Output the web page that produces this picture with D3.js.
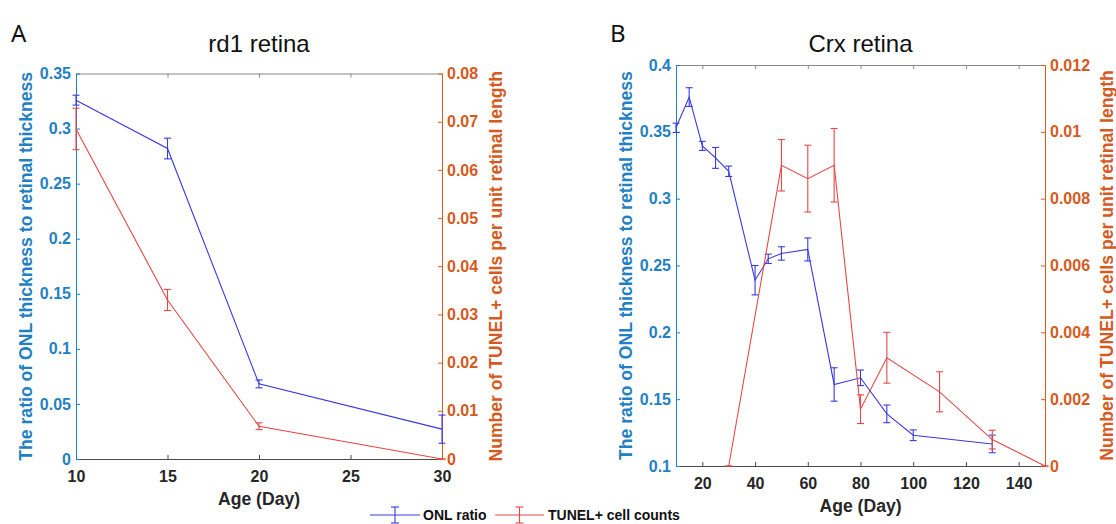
<!DOCTYPE html>
<html>
<head>
<meta charset="utf-8">
<script src="https://cdn.jsdelivr.net/npm/d3@7"></script>
<style>
  html, body { margin: 0; padding: 0; background: #ffffff; }
  svg { display: block; }
  text { font-family: "Liberation Sans", Arial, sans-serif; }
</style>
</head>
<body>
<svg id="fig" width="1116" height="524"></svg>
<script>
// ---- rd1 retina ----
const rd1OnlAge = [10, 15, 20, 30];
const rd1Onl = [0.3258, 0.2819, 0.0682, 0.0271];
const rd1OnlErr = [0.0045, 0.0094, 0.0036, 0.0128];
const rd1TunelAge = [10, 15, 20, 30];
const rd1Tunel = [0.0685, 0.0330, 0.0068, 0];
const rd1TunelErr = [0.0043, 0.0022, 0.0007, 0];
const rd1XTicks = [10, 15, 20, 25, 30];
const rd1LeftTicks = [0, 0.05, 0.1, 0.15, 0.2, 0.25, 0.3, 0.35];
const rd1RightTicks = [0, 0.01, 0.02, 0.03, 0.04, 0.05, 0.06, 0.07, 0.08];

// ---- Crx retina ----
const crxOnlAge = [10, 15, 20, 25, 30, 40, 45, 50, 60, 70, 80, 90, 100, 130];
const crxOnl = [0.353, 0.376, 0.3395, 0.3305, 0.3205, 0.239, 0.255, 0.259, 0.262, 0.161, 0.166, 0.139, 0.123, 0.1165];
const crxOnlErr = [0.0035, 0.007, 0.0034, 0.0078, 0.0039, 0.011, 0.0035, 0.005, 0.0086, 0.0125, 0.0058, 0.0066, 0.004, 0.0066];
const crxTunelAge = [30, 50, 60, 70, 80, 90, 110, 130, 150];
const crxTunel = [0, 0.0090, 0.0086, 0.0090, 0.0017, 0.00324, 0.00222, 0.00079, 0];
const crxTunelErr = [0, 0.00077, 0.001, 0.0011, 0.00043, 0.00076, 0.0006, 0.00028, 0];
const crxXTicks = [20, 40, 60, 80, 100, 120, 140];
const crxLeftTicks = [0.1, 0.15, 0.2, 0.25, 0.3, 0.35, 0.4];
const crxRightTicks = [0, 0.002, 0.004, 0.006, 0.008, 0.01, 0.012];

const seriesNames = ["ONL ratio", "TUNEL+ cell counts"];

// ---- styling ----
const LEFT_COLOR = "#1f80c4";
const RIGHT_COLOR = "#d65a20";
const ONL_COLOR = "#3a3ae2";
const TUNEL_COLOR = "#e64848";
const TICK_TEXT = "#262626";
const TICK_FONT = 16;
const LABEL_FONT = 17.6;

const svg = d3.select("#fig");

function styleAxis(sel, color) {
  sel.attr("font-family", null).attr("font-size", null);
  sel.select(".domain").attr("stroke", color).attr("stroke-width", 1);
  sel.selectAll(".tick line").attr("stroke", color).attr("stroke-width", 1);
  sel.selectAll(".tick text")
    .attr("fill", color)
    .attr("font-size", TICK_FONT)
    .attr("font-weight", "bold");
}

function drawErrorSeries(g, x, y, ages, vals, errs, color, cap) {
  const pts = ages.map((a, i) => ({ a, v: vals[i], e: errs[i] }));
  g.append("path")
    .datum(pts)
    .attr("fill", "none")
    .attr("stroke", color)
    .attr("stroke-width", 1.1)
    .attr("d", d3.line().x(d => x(d.a)).y(d => y(d.v)));
  const eb = g.append("g").attr("stroke", color).attr("stroke-width", 1.1);
  pts.forEach(d => {
    const cx = x(d.a), y0 = y(d.v - d.e), y1 = y(d.v + d.e);
    eb.append("line").attr("x1", cx).attr("x2", cx).attr("y1", y0).attr("y2", y1);
    eb.append("line").attr("x1", cx - cap).attr("x2", cx + cap).attr("y1", y0).attr("y2", y0);
    eb.append("line").attr("x1", cx - cap).attr("x2", cx + cap).attr("y1", y1).attr("y2", y1);
  });
}

function drawPanel(o) {
  const g = svg.append("g");
  const x = d3.scaleLinear().domain(o.xDomain).range([o.left, o.right]);
  const yL = d3.scaleLinear().domain(o.leftDomain).range([o.bottom, o.top]);
  const yR = d3.scaleLinear().domain(o.rightDomain).range([o.bottom, o.top]);

  // box top
  g.append("g")
    .attr("transform", `translate(0,${o.top})`)
    .call(d3.axisTop(x).tickValues(o.xTicks).tickSize(-4).tickSizeOuter(0).tickFormat(""))
    .call(s => styleAxis(s, "#8a8a8a"));

  // bottom axis
  g.append("g")
    .attr("transform", `translate(0,${o.bottom})`)
    .call(d3.axisBottom(x).tickValues(o.xTicks).tickSize(-4).tickSizeOuter(0).tickPadding(12).tickFormat(d => String(d)))
    .call(s => styleAxis(s, "#4a4a4a"))
    .call(s => s.selectAll(".tick text").attr("fill", TICK_TEXT));

  // left axis
  g.append("g")
    .attr("transform", `translate(${o.left},0)`)
    .call(d3.axisLeft(yL).tickValues(o.leftTicks).tickSize(-4).tickSizeOuter(0).tickPadding(5).tickFormat(d => String(d)))
    .call(s => styleAxis(s, LEFT_COLOR));

  // right axis
  g.append("g")
    .attr("transform", `translate(${o.right},0)`)
    .call(d3.axisRight(yR).tickValues(o.rightTicks).tickSize(-4).tickSizeOuter(0).tickPadding(5).tickFormat(d => String(d)))
    .call(s => styleAxis(s, RIGHT_COLOR));

  // data
  drawErrorSeries(g, x, yL, o.onlAge, o.onl, o.onlErr, ONL_COLOR, 3.5);
  drawErrorSeries(g, x, yR, o.tunelAge, o.tunel, o.tunelErr, TUNEL_COLOR, 3.5);

  const midY = (o.top + o.bottom) / 2;
  const midX = (o.left + o.right) / 2;

  // axis labels
  g.append("text")
    .attr("transform", `translate(${o.leftLabelX},${midY}) rotate(-90)`)
    .attr("text-anchor", "middle").attr("dominant-baseline", "central")
    .attr("font-size", LABEL_FONT).attr("font-weight", "bold").attr("fill", LEFT_COLOR)
    .text("The ratio of ONL thickness to retinal thickness");
  g.append("text")
    .attr("transform", `translate(${o.rightLabelX},${midY}) rotate(-90)`)
    .attr("text-anchor", "middle").attr("dominant-baseline", "central")
    .attr("font-size", LABEL_FONT).attr("font-weight", "bold").attr("fill", RIGHT_COLOR)
    .text("Number of TUNEL+ cells per unit retinal length");
  g.append("text")
    .attr("x", midX).attr("y", o.xLabelY)
    .attr("text-anchor", "middle")
    .attr("font-size", LABEL_FONT).attr("font-weight", "bold").attr("fill", TICK_TEXT)
    .text("Age (Day)");

  // title and panel letter
  g.append("text")
    .attr("x", midX).attr("y", 52)
    .attr("text-anchor", "middle")
    .attr("font-size", 24).attr("fill", "#111")
    .text(o.title);
  g.append("text")
    .attr("x", o.letterX).attr("y", 42)
    .style("font-family", "'Noto Sans', 'Open Sans', sans-serif")
    .attr("font-size", 24).attr("fill", "#111")
    .text(o.letter);
}

drawPanel({
  left: 76, right: 442, top: 73.5, bottom: 459,
  xDomain: [10, 30], leftDomain: [0, 0.35], rightDomain: [0, 0.08],
  xTicks: rd1XTicks, leftTicks: rd1LeftTicks, rightTicks: rd1RightTicks,
  onlAge: rd1OnlAge, onl: rd1Onl, onlErr: rd1OnlErr,
  tunelAge: rd1TunelAge, tunel: rd1Tunel, tunelErr: rd1TunelErr,
  leftLabelX: 26, rightLabelX: 496, xLabelY: 505,
  title: "rd1 retina", letter: "A", letterX: 11
});

drawPanel({
  left: 676, right: 1045, top: 65, bottom: 466,
  xDomain: [10, 150], leftDomain: [0.1, 0.4], rightDomain: [0, 0.012],
  xTicks: crxXTicks, leftTicks: crxLeftTicks, rightTicks: crxRightTicks,
  onlAge: crxOnlAge, onl: crxOnl, onlErr: crxOnlErr,
  tunelAge: crxTunelAge, tunel: crxTunel, tunelErr: crxTunelErr,
  leftLabelX: 626, rightLabelX: 1107, xLabelY: 512,
  title: "Crx retina", letter: "B", letterX: 610
});

// legend
const legend = svg.append("g").attr("font-weight", "bold").attr("font-size", 14);
const legendItems = [
  { name: seriesNames[0], color: ONL_COLOR, x0: 370, x1: 420, tx: 423 },
  { name: seriesNames[1], color: TUNEL_COLOR, x0: 495, x1: 544, tx: 548 }
];
const ly = 515;
legendItems.forEach(it => {
  const cx = (it.x0 + it.x1) / 2;
  const lg = legend.append("g").attr("stroke", it.color).attr("stroke-width", 1.1);
  lg.append("line").attr("x1", it.x0).attr("x2", it.x1).attr("y1", ly).attr("y2", ly);
  lg.append("line").attr("x1", cx).attr("x2", cx).attr("y1", ly - 8).attr("y2", ly + 8);
  lg.append("line").attr("x1", cx - 4).attr("x2", cx + 4).attr("y1", ly - 8).attr("y2", ly - 8);
  lg.append("line").attr("x1", cx - 4).attr("x2", cx + 4).attr("y1", ly + 8).attr("y2", ly + 8);
  legend.append("text").attr("x", it.tx).attr("y", ly + 5).attr("fill", "#111").text(it.name);
});
</script>
</body>
</html>
